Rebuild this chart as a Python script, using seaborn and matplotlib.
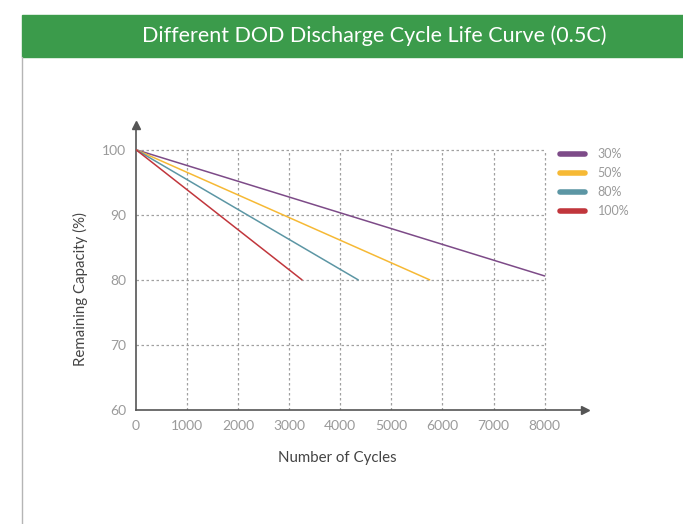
import pandas as pd
import matplotlib.pyplot as plt
import seaborn as sns
from matplotlib.patches import Rectangle
from matplotlib.lines import Line2D

# Data

dod_labels = ["30%", "50%", "80%", "100%"]
start_cycles = [0, 0, 0, 0]
start_capacity = [100, 100, 100, 100]
end_cycles = [8000, 5750, 4350, 3250]
end_capacity = [80.6, 80, 80, 80]
line_colors = ["#7d4b88", "#f6b935", "#5c96a4", "#c1363c"]

x_ticks = [0, 1000, 2000, 3000, 4000, 5000, 6000, 7000, 8000]
y_ticks = [60, 70, 80, 90, 100]

rows = []
for i, lab in enumerate(dod_labels):
    rows.append({"DOD": lab, "Cycles": start_cycles[i], "Capacity": start_capacity[i]})
    rows.append({"DOD": lab, "Cycles": end_cycles[i], "Capacity": end_capacity[i]})
df = pd.DataFrame(rows)

# Style

sns.set_style("white")
plt.rcParams["font.family"] = ["Lato", "DejaVu Sans"]

fig = plt.figure(figsize=(6.83, 5.24), dpi=100)

# Header band
fig.patches.append(Rectangle((22 / 683, 1 - 57 / 524), 1, 42 / 524,
                             transform=fig.transFigure, color="#3b9b4b", zorder=0))
fig.text(374 / 683, 1 - 36 / 524, "Different DOD Discharge Cycle Life Curve (0.5C)",
         color="white", fontsize=15.5, ha="center", va="center")
fig.lines.append(Line2D([22 / 683, 22 / 683], [0, 1 - 57 / 524],
                        transform=fig.transFigure, color="#b5b5b5", lw=1))

ax = fig.add_axes([136 / 683, 1 - 410 / 524, 449 / 683, 285 / 524])

# Grid limited to data region
for yv in y_ticks[1:]:
    ax.hlines(yv, 0, 8000, colors="#a0a0a0", linestyles=(0, (2, 2)), lw=0.9, zorder=1)
for xv in x_ticks[1:]:
    ax.vlines(xv, 60, 100, colors="#a0a0a0", linestyles=(0, (2, 2)), lw=0.9, zorder=1)

sns.lineplot(
    data=df,
    x="Cycles",
    y="Capacity",
    hue="DOD",
    palette=line_colors,
    linewidth=1.1,
    legend=False,
    ax=ax,
    zorder=3
)

ax.set_xlim(0, 8790)
ax.set_ylim(60, 103.8)
ax.set_xticks(x_ticks)
ax.set_yticks(y_ticks)
ax.tick_params(length=0, labelsize=10, labelcolor="#9a9a9a", pad=7)

for s in ["top", "right"]:
    ax.spines[s].set_visible(False)
for s in ["left", "bottom"]:
    ax.spines[s].set_color("#555555")
    ax.spines[s].set_linewidth(1.2)

# Axis arrows
ax.plot(1, 60, ">", color="#555555", ms=6, transform=ax.get_yaxis_transform(), clip_on=False)
ax.plot(0, 1, "^", color="#555555", ms=6, transform=ax.get_xaxis_transform(), clip_on=False)

ax.set_xlabel("Number of Cycles", fontsize=10.8, color="#444444")
ax.set_ylabel("Remaining Capacity (%)", fontsize=10.8, color="#444444")
ax.xaxis.set_label_coords(0.448, -0.145)
ax.yaxis.set_label_coords(-0.108, 0.425)

# Legend
handles = [Line2D([0], [0], color=c, lw=4) for c in line_colors]
leg = fig.legend(handles, dod_labels, loc="upper left",
                 bbox_to_anchor=(549 / 683, 1 - 137 / 524), frameon=False,
                 fontsize=9, handlelength=2.0, labelspacing=0.55, handletextpad=1.0)
for t in leg.get_texts():
    t.set_color("#9a9a9a")

plt.savefig("out.png", dpi=100)
plt.close()
